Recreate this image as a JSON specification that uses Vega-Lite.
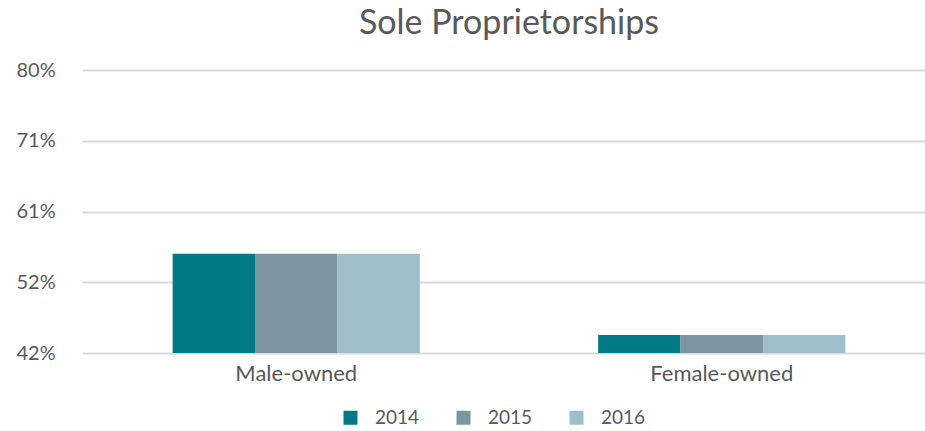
{
  "$schema": "https://vega.github.io/schema/vega-lite/v6.json",
  "autosize": "none",
  "width": 854,
  "height": 283,
  "padding": {"left": 82, "top": 70, "right": 0, "bottom": 78},
  "background": "white",
  "title": {
    "text": "Sole Proprietorships",
    "anchor": "middle",
    "frame": "group",
    "font": "Lato",
    "fontSize": 34,
    "fontWeight": "normal",
    "color": "#595959",
    "offset": 19
  },
  "data": {
    "values": [
      {"owner": "Male-owned", "year": "2014", "share": 0.556},
      {"owner": "Male-owned", "year": "2015", "share": 0.556},
      {"owner": "Male-owned", "year": "2016", "share": 0.556},
      {"owner": "Female-owned", "year": "2014", "share": 0.448},
      {"owner": "Female-owned", "year": "2015", "share": 0.448},
      {"owner": "Female-owned", "year": "2016", "share": 0.448}
    ]
  },
  "mark": {"type": "bar"},
  "encoding": {
    "x": {
      "field": "owner",
      "type": "nominal",
      "sort": ["Male-owned", "Female-owned"],
      "scale": {"paddingInner": 0.419, "paddingOuter": 0.213},
      "axis": {
        "title": null,
        "domain": false,
        "ticks": false,
        "labelAngle": 0,
        "labelFont": "Lato",
        "labelFontSize": 22,
        "labelColor": "#595959",
        "labelPadding": 10
      }
    },
    "xOffset": {
      "field": "year",
      "type": "nominal",
      "sort": ["2014", "2015", "2016"],
      "scale": {"paddingInner": 0, "paddingOuter": 0}
    },
    "y": {
      "field": "share",
      "type": "quantitative",
      "scale": {"domain": [0.424, 0.8], "nice": false, "zero": false},
      "axis": {
        "title": null,
        "values": [0.424, 0.518, 0.612, 0.706, 0.8],
        "format": ".0%",
        "domain": false,
        "ticks": false,
        "grid": true,
        "gridColor": "#d9d9d9",
        "gridWidth": 2,
        "labelAlign": "left",
        "labelBaseline": "middle",
        "labelPadding": 66,
        "labelFont": "Lato",
        "labelFontSize": 20,
        "labelColor": "#595959"
      }
    },
    "y2": {"datum": 0.424},
    "color": {
      "field": "year",
      "type": "nominal",
      "scale": {"domain": ["2014", "2015", "2016"], "range": ["#007a87", "#7d95a0", "#9fc0ca"]},
      "legend": {
        "title": null,
        "orient": "none",
        "direction": "horizontal",
        "legendX": 259,
        "legendY": 338,
        "padding": 0,
        "symbolType": "square",
        "symbolSize": 196,
        "symbolStrokeWidth": 0,
        "labelFont": "Lato",
        "labelFontSize": 19,
        "labelColor": "#595959",
        "labelOffset": 15,
        "columnPadding": 34
      }
    }
  },
  "config": {
    "view": {"stroke": null},
    "axis": {"gridCap": "butt"}
  }
}
